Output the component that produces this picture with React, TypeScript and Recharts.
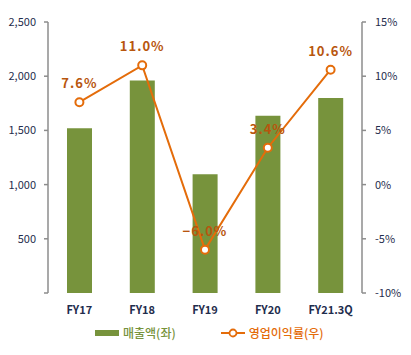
import { Bar, ComposedChart, LabelList, Line, XAxis, YAxis } from "recharts";

const categories = ["FY17", "FY18", "FY19", "FY20", "FY21.3Q"];
const sales = [1520, 1960, 1095, 1635, 1800];
const margin = [7.6, 11.0, -6.0, 3.4, 10.6];

const leftTicks = [0, 500, 1000, 1500, 2000, 2500];
const rightTicks = [-10, -5, 0, 5, 10, 15];
const boundaryTicks = [0, 1, 2, 3, 4, 5];

const BAR = "#77933c";
const LINE = "#e46c0a";
const LABEL = "#b8560e";
const AXIS = "#8c8c8c";
const TICK_TEXT = "#1f2d4d";
const FONT = "'Noto Sans CJK KR', 'Noto Sans', sans-serif";

const data = categories.map((name, i) => ({ name, sales: sales[i], margin: margin[i] }));

const fmtPct = (v: number) => `${v < 0 ? "−" : ""}${Math.abs(v).toFixed(1)}%`;

export default function App() {
  return (
    <div style={{ position: "relative", width: 403, height: 347, fontFamily: FONT }}>
      <ComposedChart
        width={403}
        height={347}
        data={data}
        margin={{ top: 14, right: 0, bottom: 38, left: 0 }}
      >
        <XAxis
          xAxisId="grid"
          type="number"
          domain={[0, 5]}
          ticks={boundaryTicks}
          tick={false}
          height={0}
          stroke={AXIS}
          strokeWidth={1.5}
          tickSize={4}
        />
        <XAxis
          xAxisId="cat"
          dataKey="name"
          axisLine={false}
          tickLine={false}
          height={24}
          tickMargin={7}
          tick={{ fill: TICK_TEXT, fontSize: 11, fontWeight: 700, fontFamily: FONT }}
        />
        <YAxis
          yAxisId="left"
          domain={[0, 2500]}
          ticks={leftTicks}
          width={40}
          stroke={AXIS}
          strokeWidth={1.5}
          tickSize={4}
          tickMargin={8}
          tick={{ fill: TICK_TEXT, fontSize: 11, fontFamily: FONT }}
          tickFormatter={(v: number) => (v === 0 ? "" : v.toLocaleString("en-US"))}
        />
        <YAxis
          yAxisId="right"
          orientation="right"
          domain={[-10, 15]}
          ticks={rightTicks}
          width={49}
          stroke={AXIS}
          strokeWidth={1.5}
          tickSize={4}
          tickMargin={9}
          tick={{ fill: TICK_TEXT, fontSize: 11, fontFamily: FONT }}
          tickFormatter={(v: number) => `${v}%`}
        />
        <Bar
          xAxisId="cat"
          yAxisId="left"
          dataKey="sales"
          fill={BAR}
          barSize={25}
          isAnimationActive={false}
        />
        <Line
          xAxisId="cat"
          yAxisId="right"
          dataKey="margin"
          stroke={LINE}
          strokeWidth={2}
          dot={{ r: 4, fill: "#fff", stroke: LINE, strokeWidth: 2 }}
          isAnimationActive={false}
        >
          <LabelList
            dataKey="margin"
            position="top"
            offset={14}
            formatter={(v: number) => fmtPct(v)}
            style={{ fill: LABEL, fontSize: 13, fontWeight: 600, letterSpacing: 1, fontFamily: FONT }}
          />
        </Line>
      </ComposedChart>
      <div
        style={{
          position: "absolute",
          top: 316,
          left: 87,
          display: "flex",
          alignItems: "center",
          fontSize: 12,
          fontWeight: 500,
          lineHeight: "18px",
        }}
      >
        <span style={{ display: "inline-block", width: 24, height: 6, background: BAR }} />
        <span style={{ color: BAR, marginLeft: 4 }}>매출액(좌)</span>
        <svg width={24} height={10} style={{ marginLeft: 45 }}>
          <line x1={0} y1={5} x2={24} y2={5} stroke={LINE} strokeWidth={2} />
          <circle cx={12} cy={5} r={3.5} fill="#fff" stroke={LINE} strokeWidth={1.8} />
        </svg>
        <span style={{ color: LINE, marginLeft: 4 }}>영업이익률(우)</span>
      </div>
    </div>
  );
}
